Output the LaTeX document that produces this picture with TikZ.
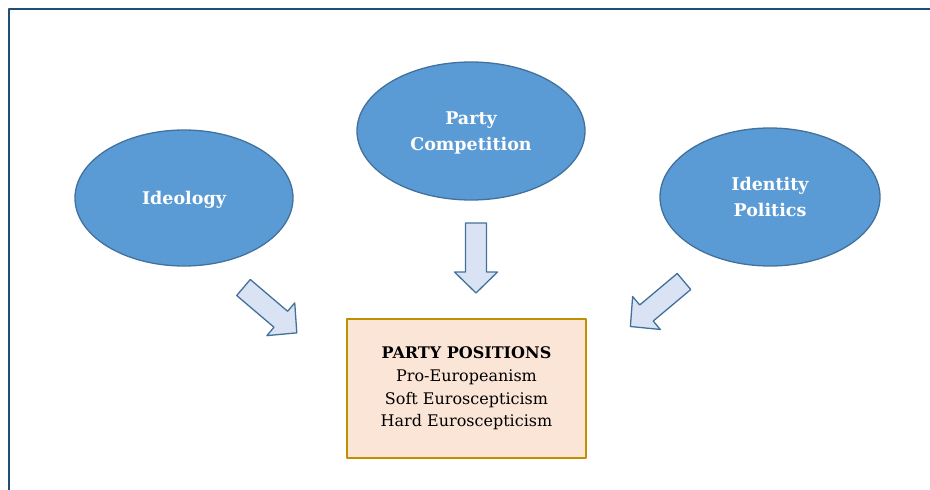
\documentclass[tikz,border=0pt]{standalone}
\usepackage{fontspec}
\setmainfont{DejaVu Serif}
\usetikzlibrary{shapes.geometric}

\definecolor{bubblefill}{HTML}{5B9BD5}
\definecolor{bubbleline}{HTML}{41719C}
\definecolor{arrowfill}{HTML}{DAE3F3}
\definecolor{boxfill}{HTML}{FBE5D6}
\definecolor{boxline}{HTML}{BF9000}
\definecolor{frameline}{HTML}{1F4E79}

\tikzset{
  blockarrow/.pic={
    \draw [arrowshape] (-10.5,0) -- (10.5,0) -- (10.5,49) -- (21.5,49)
      -- (0,70) -- (-21.5,49) -- (-10.5,49) -- cycle;
  }
}

\begin{document}
\begin{tikzpicture}[
  x=1pt,
  y=-1pt,
  line join=round,
  bubble/.style={ellipse, draw=bubbleline, fill=bubblefill, line width=1.3pt,
    text=white, align=center, inner sep=0pt, text depth=0pt,
    font=\fontsize{17.5}{25.5}\selectfont\bfseries},
  posbox/.style={rectangle, draw=boxline, fill=boxfill, line width=1.6pt,
    align=center, inner sep=0pt, minimum width=239pt, minimum height=139pt,
    font=\fontsize{16}{22.7}\selectfont},
  arrowshape/.style={draw=bubbleline, fill=arrowfill, line width=1.3pt}
]

\useasboundingbox (0,0) rectangle (930,490);

% frame, only top and left edges are visible
\draw [frameline, line width=2pt] (9,490) -- (9,9) -- (930,9);

\node [bubble, minimum width=218pt, minimum height=136pt] (ideology) at (184,198) {Ideology};
\node [bubble, minimum width=228pt, minimum height=138pt] (competition) at (471,131) {Party\\Competition};
\node [bubble, minimum width=220pt, minimum height=138pt] (identity) at (770,197) {Identity\\Politics};

\node [posbox] (positions) at (466.5,388.5)
  {\textbf{PARTY POSITIONS}\\Pro-Europeanism\\Soft Euroscepticism\\Hard Euroscepticism};

\foreach \tx/\ty/\ang in {243.5/287.5/49.6, 476/223/0, 684/281.5/-50} {
  \pic [rotate=\ang] at (\tx,\ty) {blockarrow};
}

\end{tikzpicture}
\end{document}
